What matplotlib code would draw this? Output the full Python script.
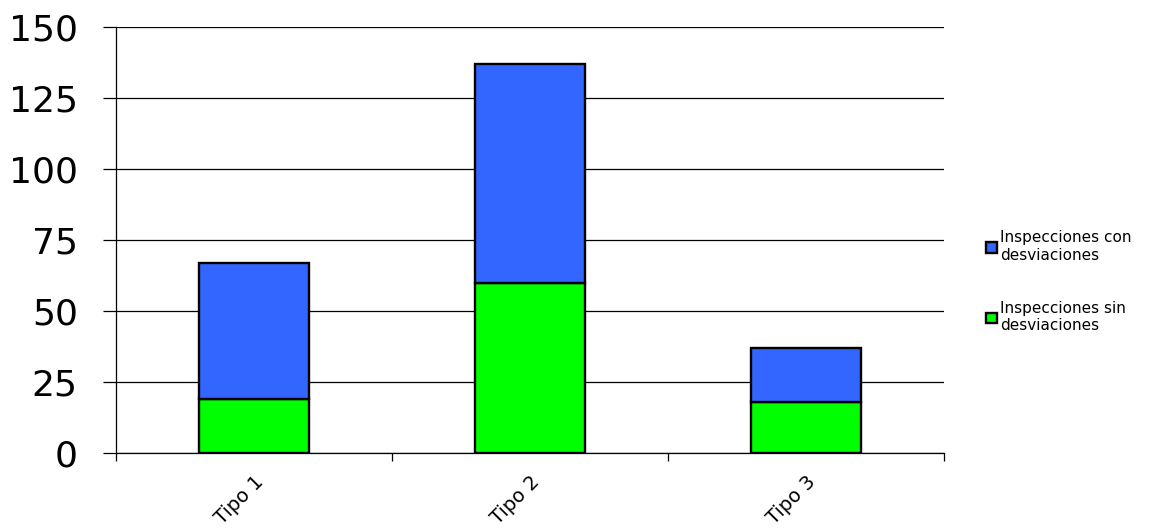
import matplotlib
matplotlib.use('Agg')
import matplotlib.pyplot as plt
import numpy as np

plt.rcParams['font.family'] = ['DejaVu Sans']

tipos = ['Tipo 1', 'Tipo 2', 'Tipo 3']
sin_desv = [19, 60, 18]
con_desv = [48, 77, 19]
y_ticks = [0, 25, 50, 75, 100, 125, 150]

fig = plt.figure(figsize=(11.57, 5.32), dpi=100)
ax = fig.add_axes([0.1003, 0.1485, 0.7156, 0.8008])

x = np.arange(len(tipos))
ax.bar(x, sin_desv, width=0.4, color='#00FF00', edgecolor='black', lw=1.7,
       label='Inspecciones sin\ndesviaciones', zorder=3)
ax.bar(x, con_desv, bottom=sin_desv, width=0.4, color='#3366FF', edgecolor='black', lw=1.7,
       label='Inspecciones con\ndesviaciones', zorder=3)

ax.set_xlim(-0.5, 2.5)
ax.set_ylim(0, 150)
ax.set_yticks(y_ticks)
ax.yaxis.grid(True, color='black', lw=0.9, zorder=0)
ax.tick_params(axis='y', length=9.5, width=0.9, labelsize=26, pad=18)

# ticks at category boundaries, labels at centres
ax.set_xticks([-0.5, 0.5, 1.5, 2.5])
ax.set_xticklabels([])
ax.tick_params(axis='x', which='major', length=6, width=0.9)
ax.set_xticks(x, minor=True)
ax.set_xticklabels(tipos, minor=True, rotation=45, ha='right', rotation_mode='anchor',
                   fontsize=14)
ax.tick_params(axis='x', which='minor', length=0, pad=14)

for s in ('top', 'right'):
    ax.spines[s].set_visible(False)
for s in ('left', 'bottom'):
    ax.spines[s].set_linewidth(0.9)

h, l = ax.get_legend_handles_labels()
fig.legend(h[::-1], l[::-1], loc='center left', bbox_to_anchor=(0.846, 0.47),
           frameon=False, fontsize=11, handlelength=0.7, handleheight=0.7,
           handletextpad=0.2, labelspacing=2.5, borderpad=0)

fig.savefig('out.png', dpi=100)
